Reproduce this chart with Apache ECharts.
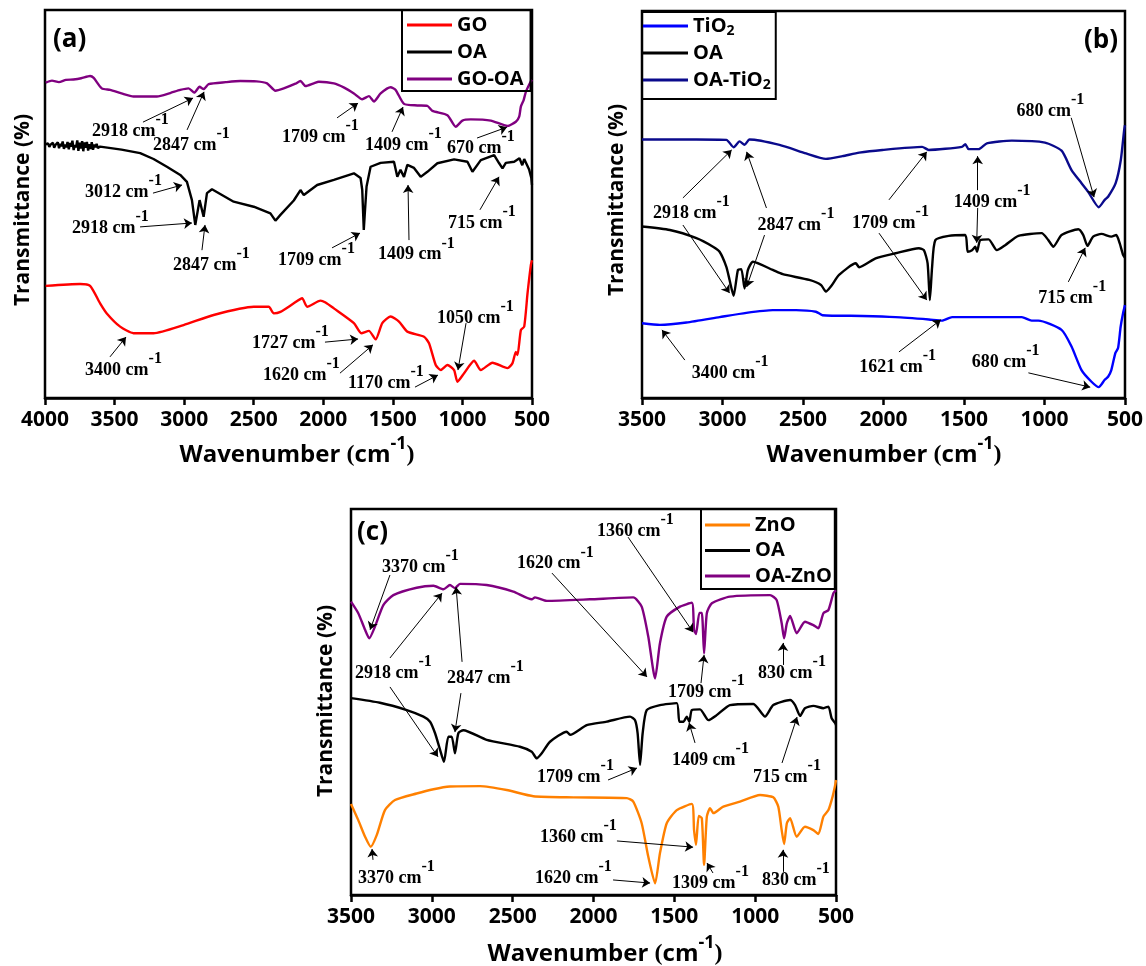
<!DOCTYPE html>
<html><head><meta charset="utf-8">
<script src="https://cdn.jsdelivr.net/npm/echarts@6/dist/echarts.min.js"></script>
<style>html,body{margin:0;padding:0;background:#fff}#c{width:1146px;height:966px}</style>
</head><body><div id="c"></div>
<script>
// ---------- Panel (a) ----------
const wnGO = [3995,3748,3676,3604,3556,3460,3364,3220,3004,2788,2500,2392,2356,2308,2212,2152,2116,2020,1984,1924,1780,1727,1672,1624,1576,1516,1456,1396,1276,1240,1192,1156,1108,1060,1036,988,916,868,784,676,640,616,604,580,556,532,508,500];
const tGO = [28.9,29.4,28.9,24.4,21.8,18.4,16.7,16.7,18.8,21.4,23.5,23.5,21.8,22.2,24.4,25.7,23.5,25.1,24.6,23.1,19.3,16.7,17.3,15.1,19.3,21.0,19.7,17.1,15.8,14.1,8.5,7.2,8.5,7.2,4.2,6.4,9.6,7.2,9.1,7.7,9.0,11.9,11.1,17.5,18.4,27.0,34.3,35.5];
const wnOAa = [3995,3986,3978,3969,3960,3951,3943,3934,3925,3917,3908,3899,3890,3882,3873,3864,3855,3847,3838,3829,3820,3812,3803,3794,3786,3777,3768,3760,3751,3742,3733,3725,3716,3707,3699,3690,3681,3672,3664,3655,3646,3637,3629,3620,3604,3450,3316,3220,3124,3028,2980,2968,2944,2920,2889,2860,2836,2800,2644,2500,2380,2344,2308,2212,2164,2140,2044,1924,1780,1732,1720,1709,1700,1689,1660,1588,1492,1480,1468,1445,1420,1396,1348,1300,1252,1180,1060,964,928,868,772,736,712,688,628,590,570,556,540,520,505,500];
const tOAa = [65.4,64.9,65.6,64.7,65.3,65.0,65.8,64.5,65.2,64.8,65.9,64.4,65.5,64.9,66.1,64.2,65.3,64.6,66.0,64.1,65.7,64.8,66.3,63.9,65.2,64.6,66.4,63.7,65.8,64.3,66.2,63.6,65.9,64.5,66.0,63.8,65.4,64.2,65.9,64.0,65.3,64.6,65.5,64.4,64.8,64.0,63.1,61.6,59.6,57.5,55.7,55.3,51.0,44.6,51.0,46.7,52.8,53.8,50.6,49.3,47.6,45.7,47.2,50.9,53.6,52.3,54.9,56.2,57.9,56.7,53.6,43.3,48.5,54.5,59.6,60.6,60.9,60.6,57.0,58.8,57.0,60.1,59.3,57.0,58.3,60.5,61.5,60.9,58.3,61.3,62.6,60.5,59.2,60.6,60.9,61.8,60.0,61.6,60.4,58.8,56.7,54.9];
const wnGOOA = [3995,3950,3900,3850,3796,3740,3676,3650,3592,3532,3450,3364,3196,3100,3028,2968,2927,2889,2860,2824,2700,2596,2480,2404,2344,2284,2200,2164,2128,2068,2032,1924,1850,1780,1720,1672,1636,1588,1516,1480,1420,1324,1252,1216,1108,1048,1000,940,796,676,616,592,580,560,544,510,500];
const tGOOA = [81.3,81.8,81.4,82.0,82.1,82.4,83.0,82.5,79.8,79.4,78.5,77.7,77.7,78.6,79.4,79.8,78.7,80.2,79.6,80.9,81.4,81.7,81.6,81.1,79.2,79.8,81.0,81.7,80.4,81.1,81.5,81.1,80.0,78.5,77.0,77.8,76.4,78.5,80.1,79.4,75.8,75.4,75.3,74.0,72.9,69.9,71.5,71.8,71.5,70.1,71.2,72.5,75.1,76.8,78.9,81.5,82.0];
// ---------- Panel (b) ----------
const wnTiO2 = [3500,3389,3224,3018,2852,2688,2543,2420,2379,2131,1925,1718,1636,1574,1141,1080,1038,894,832,770,708,663,626,605,585,560,543,527,512,500];
const tTiO2 = [19.3,18.9,19.5,20.9,22.0,22.7,22.7,22.3,21.4,21.2,20.9,20.3,20.0,20.9,20.9,20.0,20.0,17.6,13.3,7.2,4.2,2.8,4.7,5.5,7.2,11.6,12.9,18.4,21.9,24.0];
const wnOAb = [3500,3327,3162,3059,3018,2976,2956,2931,2904,2883,2863,2842,2811,2688,2626,2461,2388,2358,2327,2276,2172,2151,2049,1925,1780,1749,1726,1712,1698,1678,1595,1492,1477,1450,1430,1419,1399,1347,1296,1244,1162,1018,976,945,894,790,759,733,698,646,585,554,533,512,500];
const tOAb = [44.3,43.4,41.3,39.1,37.8,33.9,30.5,26.4,33.1,33.3,28.3,33.1,35.2,33.1,32.0,30.5,29.2,27.5,28.8,31.8,34.8,33.8,36.1,37.4,38.7,38.2,34.8,25.3,33.9,40.8,41.9,42.1,37.8,38.2,39.1,37.8,40.8,41.0,38.2,39.5,41.9,42.6,40.8,39.1,42.1,43.6,42.1,39.3,41.7,42.4,41.7,42.1,40.0,37.0,36.2];
const wnOATiO2 = [3500,3162,2976,2931,2894,2863,2832,2646,2481,2358,2255,2151,2007,1760,1719,1513,1492,1471,1409,1358,1203,997,894,832,770,729,663,626,605,558,526,505,500];
const tOATiO2 = [66.8,66.8,66.7,64.8,66.3,65.4,66.8,65.4,63.2,61.8,62.5,63.4,64.1,64.9,64.1,64.9,65.6,64.3,64.3,65.8,66.5,66.0,63.9,58.9,55.5,53.3,49.3,51.2,52.0,55.5,61.5,69.3,70.5];
// ---------- Panel (c) ----------
const wnZnO = [3500,3455,3413,3378,3341,3290,3228,3094,2990,2888,2702,2537,2372,2124,1794,1754,1702,1661,1619,1589,1547,1485,1392,1378,1366,1349,1330,1316,1299,1279,1258,1197,1094,970,888,857,836,821,804,784,743,692,640,609,578,547,521,505,500];
const tZnO = [23.6,19.4,15.1,12.5,15.5,22.0,24.6,26.3,27.4,28.1,28.2,27.2,25.6,25.3,25.1,24.2,18.6,9.9,3.0,10.8,18.6,22.0,23.6,16.8,13.0,20.5,19.9,7.8,20.3,22.5,21.2,22.9,24.2,25.9,25.3,22.9,16.8,13.2,18.6,19.9,15.1,17.7,16.8,15.8,20.3,22.0,25.5,28.5,29.8];
const wnOAc = [3500,3321,3155,3052,3011,2980,2949,2925,2898,2877,2857,2836,2805,2661,2455,2382,2351,2320,2269,2166,2145,2042,1918,1774,1743,1727,1712,1696,1671,1589,1485,1469,1444,1423,1407,1392,1341,1289,1238,1156,1011,939,888,784,753,722,692,640,578,547,527,505,500];
const tOAc = [51.0,49.8,47.9,46.2,44.9,41.9,37.6,34.5,41.0,41.0,36.7,41.9,42.7,40.2,38.4,37.1,35.4,36.7,39.7,42.3,41.5,44.0,44.9,46.2,45.3,41.9,33.7,41.9,47.9,49.2,49.7,44.9,44.9,46.2,44.9,47.9,48.1,45.3,46.6,49.2,49.5,46.2,49.2,50.5,49.2,46.4,48.4,49.0,48.4,48.8,45.8,44.5,44.0];
const wnOAZnO = [3500,3455,3413,3387,3352,3300,3238,3094,2990,2928,2888,2857,2826,2661,2496,2382,2362,2289,2022,1754,1702,1661,1619,1589,1547,1465,1392,1378,1366,1345,1330,1316,1299,1268,1156,908,867,836,821,804,784,743,692,640,609,578,547,516,500];
const tOAZnO = [76.0,73.0,68.7,66.5,69.5,75.1,77.7,79.6,80.1,79.2,80.3,79.5,80.6,80.3,78.6,76.6,77.1,76.2,76.6,77.1,74.7,66.9,56.1,65.2,72.1,74.7,75.7,68.7,67.6,73.1,73.1,62.6,73.0,75.6,77.3,77.7,76.4,70.4,66.5,70.4,72.3,67.8,70.8,69.9,69.1,73.0,73.8,78.2,79.0];

// ---------- Peak annotations: [text, wavenumber, transmittance] ----------
const labelsA = [['2918',3662,68.8],['2847',3224,65.2],['1709',2297,67.3],['1409',1700,65.2],['670',1111,64.4],['3012',3712,53.1],['2918',3806,43.8],['2847',3080,34.3],['1709',2325,35.6],['1409',1607,36.9],['715',1104,45.1],['3400',3712,7.2],['1727',2512,14.2],['1620',2433,5.9],['1170',1822,3.9],['1050',1183,20.6]];
const arrowsA = [[[3296,71.1],[2936,77.3]],[[2979,69.1],[2857,78.9]],[[1901,72.2],[1750,76.0]],[[1506,68.6],[1427,75.0]],[[895,67.0],[680,69.8]],[[3224,52.8],[3015,54.9]],[[3317,44.1],[2944,45.1]],[[2872,38.1],[2850,44.6]],[[1937,38.7],[1736,42.5]],[[1384,40.7],[1391,54.9]],[[874,48.5],[737,57.0]],[[3533,10.6],[3418,15.7]],[[1988,14.4],[1750,15.2]],[[1880,6.4],[1643,13.7]],[[1341,2.8],[1176,5.9]],[[974,19.3],[1032,7.2]]];
const labelsB = [['680',1174,74.2],['1409',1564,50.6],['2918',3432,47.8],['2847',2782,44.7],['1709',2195,45.2],['715',1038,25.8],['3400',3191,6.5],['1621',2151,8.0],['680',1452,9.3]];
const arrowsB = [[[834,72.4],[692,51.9]],[[1415,53.7],[1415,62.5]],[[1415,49.1],[1421,40.1]],[[3246,51.7],[2943,64.1]],[[3246,44.7],[2956,27.1]],[[2727,49.1],[2850,63.6]],[[2739,42.1],[2850,28.7]],[[1966,51.2],[1731,63.6]],[[2028,42.6],[1731,25.3]],[[852,30.0],[747,38.8]],[[3234,9.8],[3376,17.6]],[[1904,11.9],[1644,20.2]],[[1100,6.5],[716,2.8]]];
const labelsC = [['3370',3308,85.0],['1620',2473,85.8],['1360',1978,94.3],['2918',3475,57.5],['2847',2906,56.2],['1709',1539,52.6],['830',982,57.5],['1709',2349,30.6],['1409',1514,35.0],['715',1013,30.6],['3370',3457,4.4],['1360',2331,15.0],['1620',2362,4.4],['1309',1514,3.1],['830',958,3.9]];
const arrowsC = [[[3259,82.9],[3382,68.7]],[[2257,83.4],[1669,56.5]],[[1786,92.7],[1384,68.1]],[[3259,61.4],[2937,78.2]],[[3259,53.9],[2962,35.8]],[[2813,60.4],[2850,79.8]],[[2820,52.3],[2857,42.2]],[[1335,54.9],[1316,62.2]],[[828,59.6],[828,65.3]],[[1910,29.8],[1731,32.9]],[[1372,39.4],[1409,44.6]],[[834,34.2],[741,46.1]],[[3364,9.1],[3370,11.9]],[[1855,14.0],[1384,12.4]],[[1879,3.9],[1650,3.1]],[[828,6.0],[828,11.7]]];
const curvedC = [[[1261,5.7],[1298,8.3]]];

const SANS = 'Open Sans', SERIF = 'Liberation Serif';
const zip = (a, b) => a.map((x, i) => [x, b[i]]);
const chart = echarts.init(document.getElementById('c'), null, {width:1146, height:966});

const grids = [
  {left:45, top:10, width:487, height:388},
  {left:642, top:11, width:485, height:387},
  {left:351, top:509, width:485, height:386}
].map(g => Object.assign({show:true, borderColor:'#000', borderWidth:2.5, backgroundColor:'transparent'}, g));
const xMax = [4000, 3500, 3500];
const xAxes = xMax.map((mx, i) => ({
  gridIndex:i, type:'value', min:500, max:mx, interval:500, inverse:true,
  axisLine:{show:true, lineStyle:{color:'#000', width:2.5}},
  axisTick:{show:true, inside:false, length:7, lineStyle:{color:'#000', width:2.5}},
  axisLabel:{show:true, margin:12, color:'#000', fontFamily:SANS, fontWeight:700, fontSize:21,
    showMinLabel:true, showMaxLabel:true, formatter:v => String(v)},
  splitLine:{show:false}
}));
const yAxes = [0,1,2].map(i => ({gridIndex:i, type:'value', min:0, max:100,
  axisLine:{show:false}, axisTick:{show:false}, axisLabel:{show:false}, splitLine:{show:false}}));

const annRich = {
  m:{fontFamily:SERIF, fontWeight:'bold', fontSize:18, lineHeight:28, verticalAlign:'bottom', color:'#000'},
  s:{fontFamily:SERIF, fontWeight:'bold', fontSize:16, verticalAlign:'top', color:'#000'}
};
function marks(labels, arrows, curved) {
  const lines = arrows.map(([a, b]) => [{coord:a}, {coord:b}]);
  (curved || []).forEach(([a, b]) => lines.push([{coord:a, lineStyle:{curveness:-2.5}}, {coord:b}]));
  return {
    markPoint:{symbol:'circle', symbolSize:0, silent:true, animation:false, itemStyle:{color:'transparent'},
      data: labels.map(([t, x, y]) => ({coord:[x, y], value:t,
        label:{show:true, position:'right', distance:0, offset:[0,-5], formatter:'{m|' + t + ' cm}{s|-1}', rich:annRich}}))},
    markLine:{silent:true, animation:false, symbol:['none','arrow'], symbolSize:8, label:{show:false},
      lineStyle:{color:'#000', width:1, type:'solid'}, emphasis:{disabled:true}, data:lines}
  };
}
function line(name, wn, t, color, i, extra) {
  return Object.assign({type:'line', name, xAxisIndex:i, yAxisIndex:i, data:zip(wn, t),
    showSymbol:false, symbol:'none', smooth:0.2, lineStyle:{color, width:2.4}, itemStyle:{color},
    animation:false, emphasis:{disabled:true}}, extra || {});
}
const series = [
  line('GO', wnGO, tGO, '#ff0000', 0, marks(labelsA, arrowsA)),
  Object.assign(line('OA', wnOAa, tOAa, '#000000', 0), {smooth:false}),
  line('GO-OA', wnGOOA, tGOOA, '#800080', 0),
  line('TiO2', wnTiO2, tTiO2, '#0000ff', 1, marks(labelsB, arrowsB)),
  line('OA', wnOAb, tOAb, '#000000', 1),
  line('OA-TiO2', wnOATiO2, tOATiO2, '#0a0a8c', 1),
  line('ZnO', wnZnO, tZnO, '#ff8000', 2, marks(labelsC, arrowsC, curvedC)),
  line('OA', wnOAc, tOAc, '#000000', 2),
  line('OA-ZnO', wnOAZnO, tOAZnO, '#800080', 2)
];

const legBase = {orient:'vertical', itemWidth:45, itemHeight:3, icon:'rect', borderColor:'#000', borderWidth:2,
  selectedMode:false, backgroundColor:'transparent'};
const legText = {fontFamily:SANS, fontWeight:700, fontSize:20, lineHeight:22, color:'#000'};
const legends = [
  Object.assign({}, legBase, {data:['GO','OA','GO-OA'], left:402, top:10, padding:[4,7,1,5], itemGap:5, textStyle:legText}),
  Object.assign({}, legBase, {data:['TiO2','OA','OA-TiO2'], left:642, top:12, padding:[2,5,7,1], itemGap:3,
    formatter: n => n.replace('2', '{sub|2}'),
    textStyle:Object.assign({}, legText, {lineHeight:24, rich:{sub:{fontFamily:SANS, fontWeight:700, fontSize:14, verticalAlign:'bottom', color:'#000'}}})}),
  Object.assign({}, legBase, {data:['ZnO','OA','OA-ZnO'], left:701, top:509, padding:[5,3,2,4], itemGap:3.5, textStyle:legText})
];

const titleRich = {
  w:{fontFamily:SANS, fontWeight:700, fontSize:24, lineHeight:32, verticalAlign:'bottom', fill:'#000', color:'#000'},
  p:{fontFamily:SERIF, fontWeight:700, fontSize:24, lineHeight:32, verticalAlign:'bottom', fill:'#000', color:'#000'},
  s:{fontFamily:SANS, fontWeight:700, fontSize:18, verticalAlign:'top', fill:'#000', color:'#000'}
};
const xTitle = '{w|Wavenumber }{p|(}{w|cm}{s|-1}{p|)}';
function xt(x, y) { return {type:'text', x, y, silent:true, style:{text:xTitle, rich:titleRich, align:'center', verticalAlign:'middle', textAlign:'center', textVerticalAlign:'middle'}}; }
function yt(x, y) { return {type:'text', x, y, rotation:Math.PI/2, silent:true, style:{text:'Transmittance (%)', font:'bold 21px "Open Sans"', fill:'#000', align:'center', verticalAlign:'middle', textAlign:'center', textVerticalAlign:'middle'}}; }
function pl(t, x, y, al) { return {type:'text', x, y, silent:true, style:{text:t, font:'bold 26px "Open Sans"', fill:'#000', align:al, verticalAlign:'middle', textAlign:al, textVerticalAlign:'middle'}}; }

chart.setOption({
  animation:false,
  backgroundColor:'#fff',
  grid:grids, xAxis:xAxes, yAxis:yAxes, legend:legends, series,
  graphic:[xt(297,451), xt(884,451), xt(605,950), yt(23,210), yt(617,200), yt(326,701),
    pl('(a)', 53, 40, 'left'), pl('(b)', 1118, 41, 'right'), pl('(c)', 357, 533, 'left')]
});
</script></body></html>
